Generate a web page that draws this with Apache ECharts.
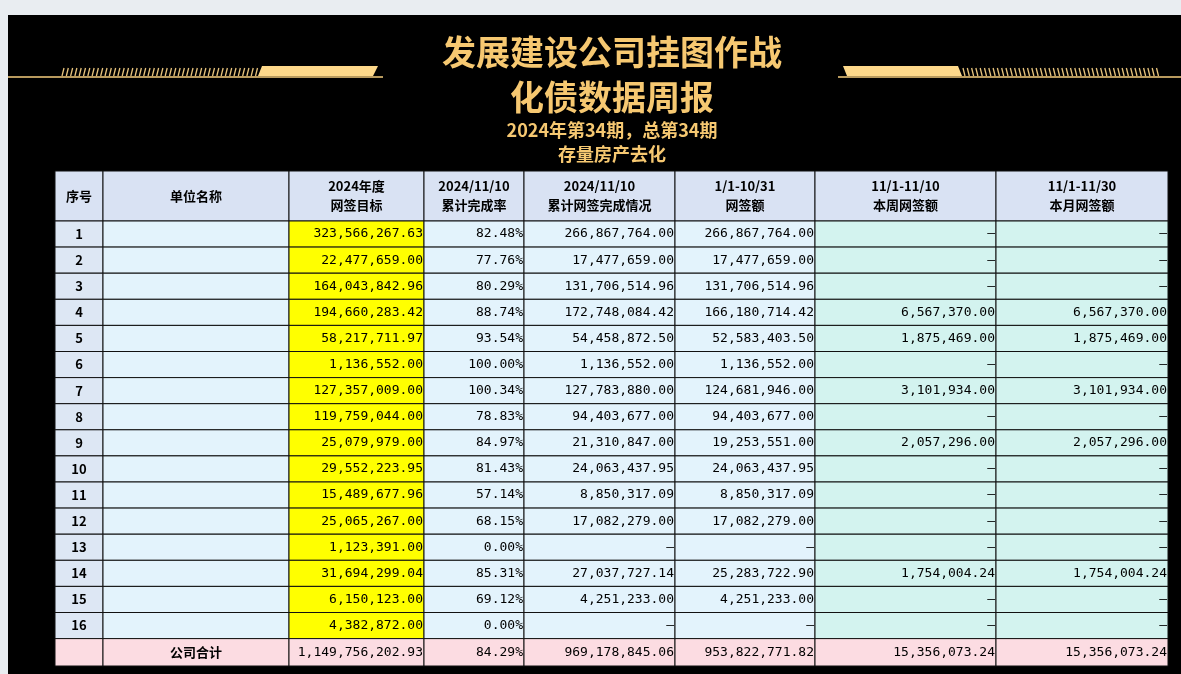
<!DOCTYPE html>
<html><head><meta charset="utf-8">
<script src="https://cdn.jsdelivr.net/npm/echarts@6/dist/echarts.min.js"></script>
<style>html,body{margin:0;padding:0;background:#e9edf1}#c{width:1181px;height:674px}</style>
</head><body><div id="c"></div>
<script>
const headers = ['序号','单位名称','2024年度\n网签目标','2024/11/10\n累计完成率','2024/11/10\n累计网签完成情况','1/1-10/31\n网签额','11/1-11/10\n本周网签额','11/1-11/30\n本月网签额'];
const seq = ['1','2','3','4','5','6','7','8','9','10','11','12','13','14','15','16'];
const names = ['','','','','','','','','','','','','','','',''];
const targets = [323566267.63,22477659.00,164043842.96,194660283.42,58217711.97,1136552.00,127357009.00,119759044.00,25079979.00,29552223.95,15489677.96,25065267.00,1123391.00,31694299.04,6150123.00,4382872.00];
const rates = [82.48,77.76,80.29,88.74,93.54,100.00,100.34,78.83,84.97,81.43,57.14,68.15,0.00,85.31,69.12,0.00];
const cumulative = [266867764.00,17477659.00,131706514.96,172748084.42,54458872.50,1136552.00,127783880.00,94403677.00,21310847.00,24063437.95,8850317.09,17082279.00,0,27037727.14,4251233.00,0];
const netOct = [266867764.00,17477659.00,131706514.96,166180714.42,52583403.50,1136552.00,124681946.00,94403677.00,19253551.00,24063437.95,8850317.09,17082279.00,0,25283722.90,4251233.00,0];
const week = [0,0,0,6567370.00,1875469.00,0,3101934.00,0,2057296.00,0,0,0,0,1754004.24,0,0];
const month = [0,0,0,6567370.00,1875469.00,0,3101934.00,0,2057296.00,0,0,0,0,1754004.24,0,0];
const totalLabel = '公司合计';
const totals = [1149756202.93,84.29,969178845.06,953822771.82,15356073.24,15356073.24];
const titles = ['发展建设公司挂图作战','化债数据周报','2024年第34期，总第34期','存量房产去化'];

const colEdges=[0,48,234,369,469,620,760,941,1113];
const headH=50, rowH=26.1;
const rowTop=i=>headH+rowH*i;
const fmt=v=>v?v.toLocaleString('en-US',{minimumFractionDigits:2,maximumFractionDigits:2}):'–';
const pct=v=>v.toFixed(2)+'%';
const fills={head:'#d9e2f3',body:'#e3f3fc',seq:'#dde7f4',yel:'#ffff00',mint:'#d3f3ef',pink:'#fcdce2'};
const cells=[];
headers.forEach((h,c)=>cells.push([c,0,headH,'head',h,'center',1]));
for(let i=0;i<seq.length;i++){
  const y0=rowTop(i),y1=rowTop(i+1);
  const row=[seq[i],names[i],fmt(targets[i]),pct(rates[i]),fmt(cumulative[i]),fmt(netOct[i]),fmt(week[i]),fmt(month[i])];
  row.forEach((t,c)=>{
    const f=c===0?'seq':c===2?'yel':c>=6?'mint':'body';
    cells.push([c,y0,y1,f,t,c===0?'center':c===1?'left':'right',c===0?1:0]);
  });
}
{
  const y0=rowTop(seq.length),y1=495;
  const row=['',totalLabel,fmt(totals[0]),pct(totals[1]),fmt(totals[2]),fmt(totals[3]),fmt(totals[4]),fmt(totals[5])];
  row.forEach((t,c)=>cells.push([c,y0,y1,'pink',t,c===1?'center':'right',c===1?1:0]));
}
const deco=[];
deco.push({type:'rect',shape:{x:8,y:15,width:1173,height:659},style:{fill:'#000'},z:-10});
deco.push({type:'line',shape:{x1:8,y1:77,x2:383,y2:77},style:{stroke:'#b89a5e',lineWidth:2}});
deco.push({type:'line',shape:{x1:838,y1:77,x2:1181,y2:77},style:{stroke:'#b89a5e',lineWidth:2}});
deco.push({type:'polygon',shape:{points:[[262,66],[378,66],[373,76],[258,76]]},style:{fill:'#fdd88a'}});
deco.push({type:'polygon',shape:{points:[[843,66],[958,66],[962,76],[847,76]]},style:{fill:'#fdd88a'}});
for(let x=62;x<256;x+=4.3) deco.push({type:'line',shape:{x1:x,y1:76,x2:x+2,y2:68},style:{stroke:'#e9c57d',lineWidth:1.3}});
for(let x=963;x<1160;x+=4.3) deco.push({type:'line',shape:{x1:x,y1:68,x2:x+2,y2:76},style:{stroke:'#e9c57d',lineWidth:1.3}});
const tt=(t,y,s)=>({type:'text',z:10,style:{x:612,y:y,text:t,fill:'#f6c871',font:'bold '+s+'px "Noto Sans CJK SC"',textAlign:'center',textVerticalAlign:'middle'}});
deco.push(tt(titles[0],52,34),tt(titles[1],97,34),tt(titles[2],130,18),tt(titles[3],154,18));

const chart=echarts.init(document.getElementById('c'));
chart.setOption({
  animation:false,
  graphic:{elements:deco},
  grid:{left:55,top:171,width:1113,height:495},
  xAxis:{type:'value',min:0,max:1113,show:false},
  yAxis:{type:'value',min:0,max:495,inverse:true,show:false},
  series:[{type:'custom',data:cells,renderItem:(p,api)=>{
    const c=api.value(0),y0=api.value(1),y1=api.value(2);
    const d=cells[p.dataIndex];
    const a=api.coord([colEdges[c],y0]),b=api.coord([colEdges[c+1],y1]);
    const w=b[0]-a[0],h=b[1]-a[1];
    const al=d[5];
    const tx=al==='center'?a[0]+w/2:al==='left'?a[0]+4:b[0]-1;
    return {type:'group',children:[
      {type:'rect',shape:{x:a[0],y:a[1],width:w,height:h},style:{fill:fills[d[3]],stroke:'#111',lineWidth:1}},
      {type:'text',style:{x:tx,y:a[1]+h/2,text:d[4],textAlign:al,textVerticalAlign:'middle',fill:'#000',
        font:(d[6]?'bold 13px "Noto Sans CJK SC"':'13px "DejaVu Sans Mono"'),lineHeight:19}}
    ]};
  }}]
});
</script></body></html>
